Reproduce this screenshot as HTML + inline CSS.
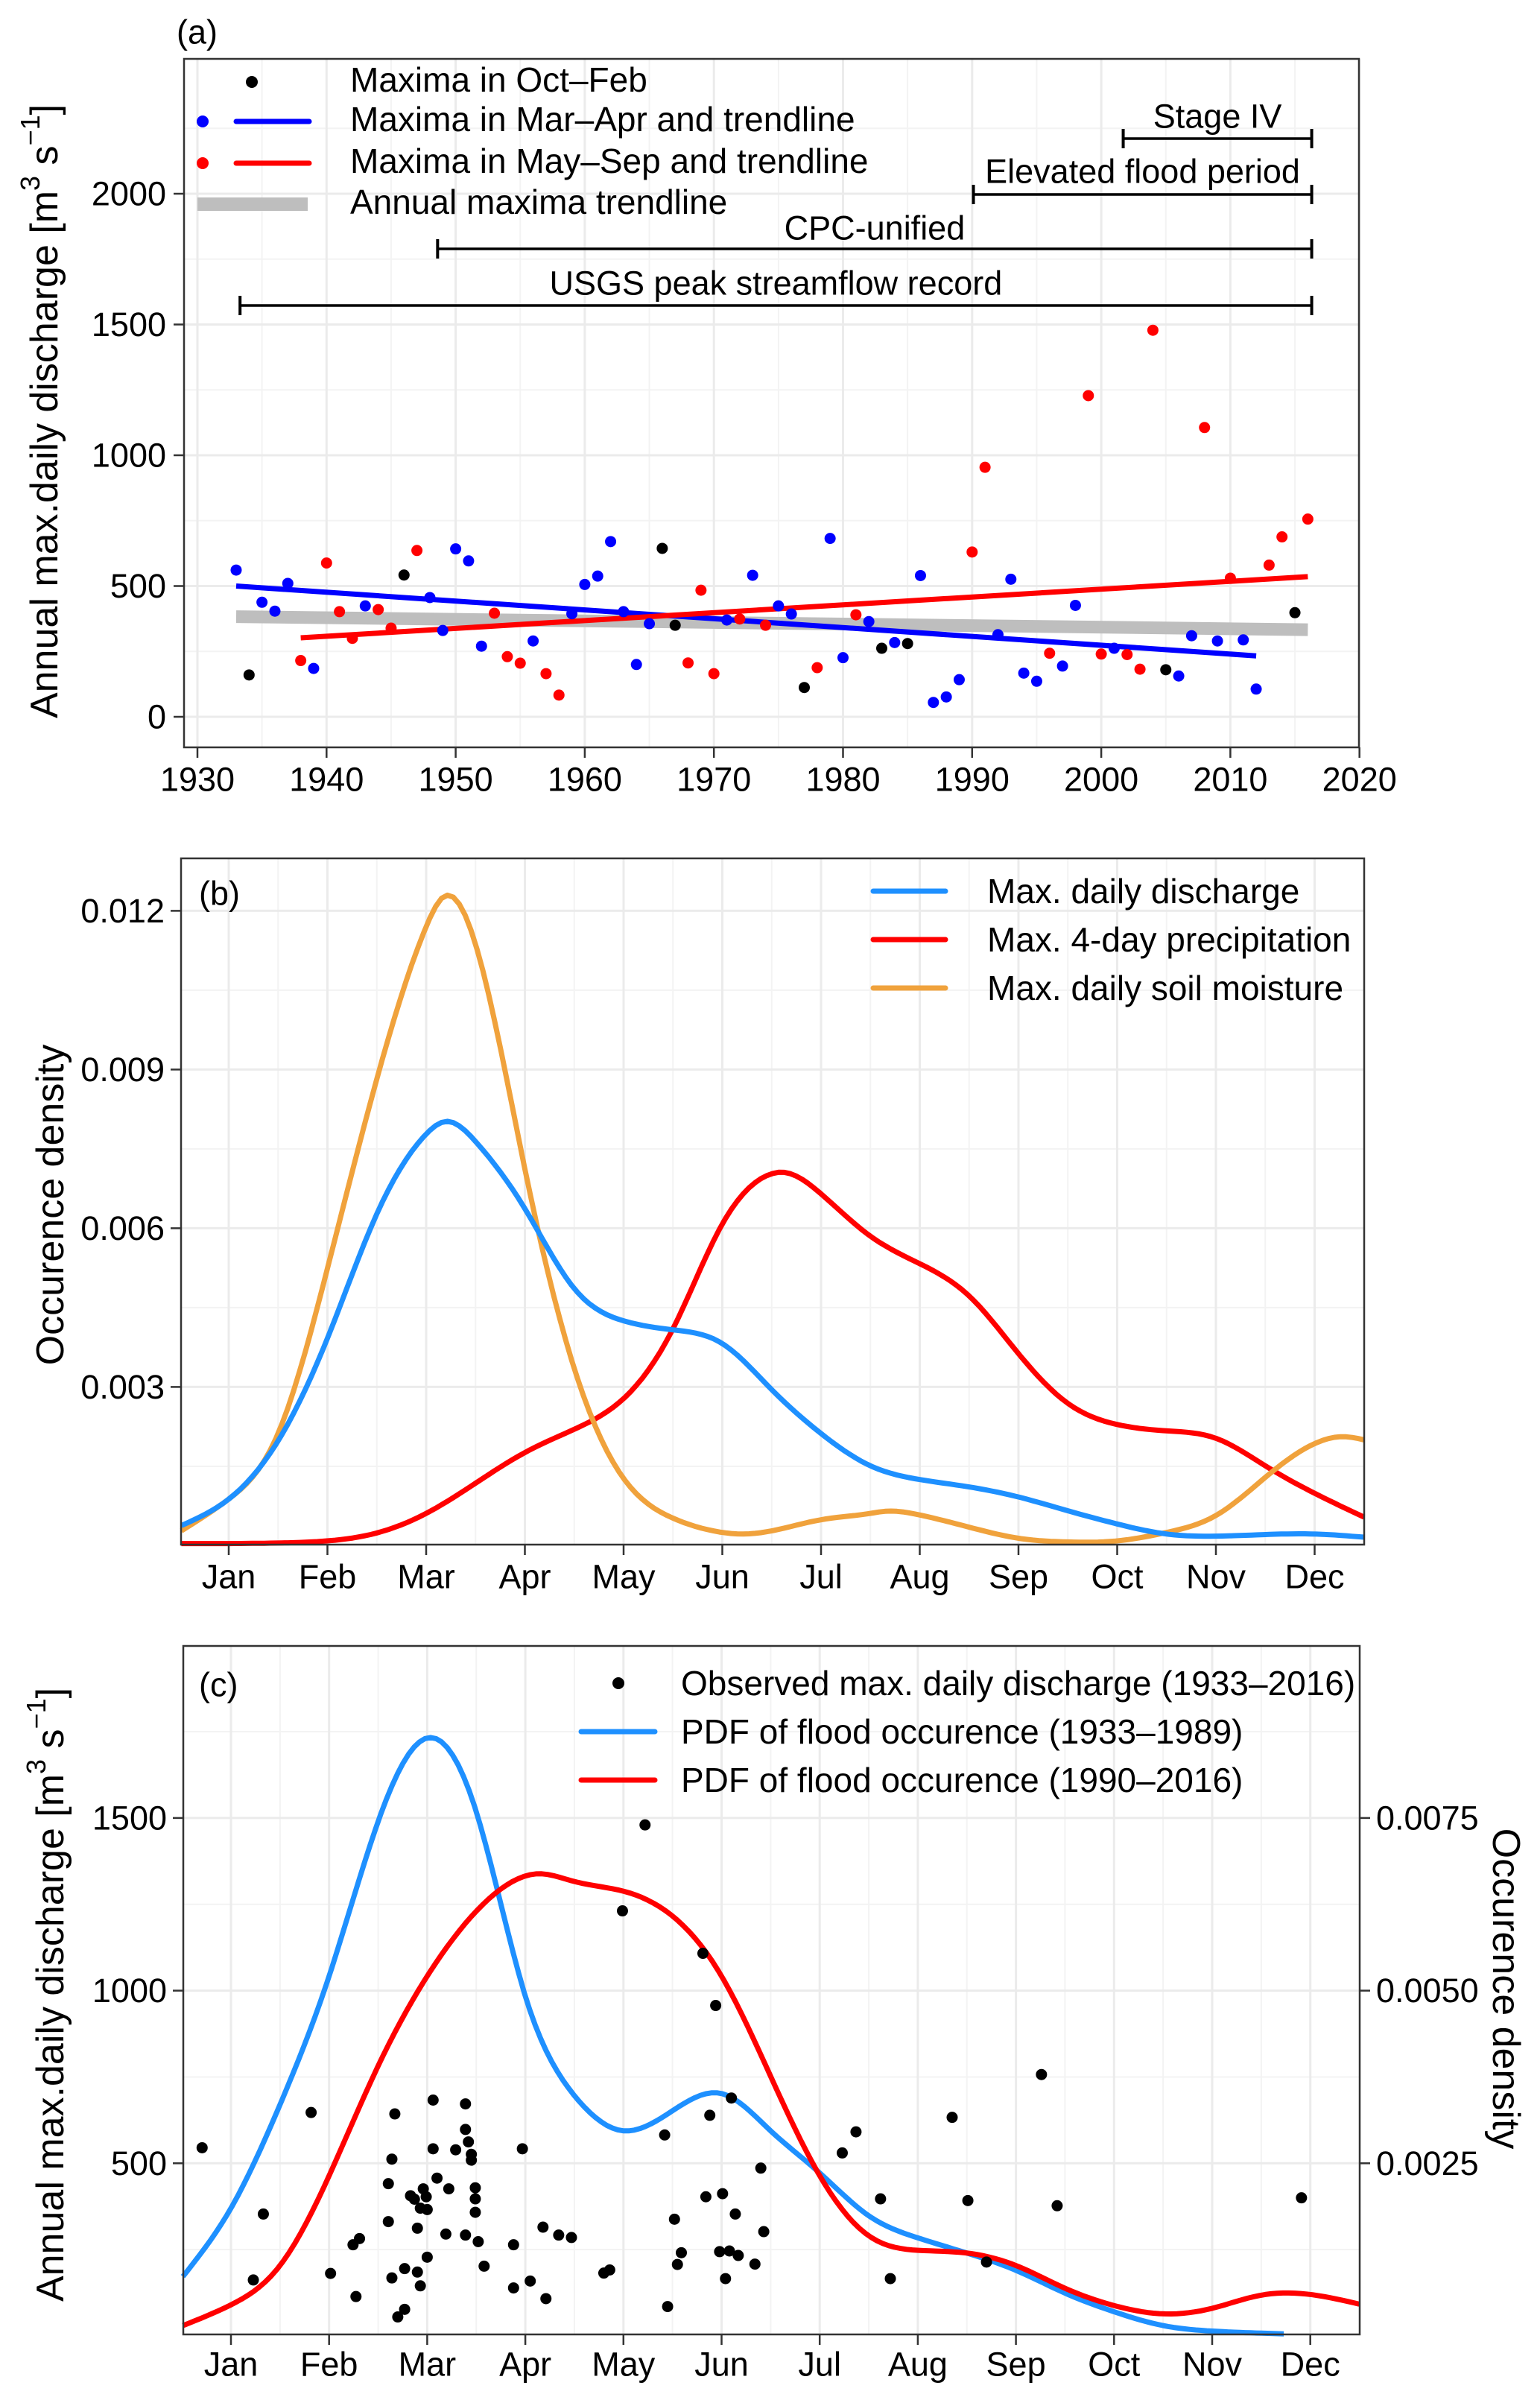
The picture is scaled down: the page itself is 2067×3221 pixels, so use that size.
<!DOCTYPE html>
<html><head><meta charset="utf-8">
<style>
html,body{margin:0;padding:0;background:#fff;}
svg{display:block;font-family:"Liberation Sans",Arial,sans-serif;}
</style></head>
<body>
<svg id="fig" xmlns="http://www.w3.org/2000/svg" width="2067" height="3221" viewBox="0 0 2067 3221"></svg>
<script>
// ---------- Panel (a) data ----------
const aYears = [1933,1934,1935,1936,1937,1938,1939,1940,1941,1942,1943,1944,1945,1946,1947,1948,1949,1950,1951,1952,1953,1954,1955,1956,1957,1958,1959,1960,1961,1962,1963,1964,1965,1966,1967,1968,1969,1970,1971,1972,1973,1974,1975,1976,1977,1978,1979,1980,1981,1982,1983,1984,1985,1986,1987,1988,1989,1990,1991,1992,1993,1994,1995,1996,1997,1998,1999,2000,2001,2002,2003,2004,2005,2006,2007,2008,2009,2010,2011,2012,2013,2014,2015,2016];
const aValues = [561,160,438,404,510,215,185,588,402,300,424,410,339,542,636,456,330,642,596,270,396,230,205,290,165,83,394,506,538,670,402,200,356,644,350,206,484,165,370,374,541,350,424,393,112,188,682,226,390,364,262,284,280,540,55,76,142,630,954,314,526,167,136,243,194,426,1228,240,262,238,182,1478,180,156,310,1106,290,530,294,106,580,688,398,756];
const aSeason = ["b","k","b","b","b","r","b","r","r","r","b","r","r","k","r","b","b","b","b","b","r","r","r","b","r","r","b","b","b","b","b","b","b","k","k","r","r","r","b","r","b","r","b","b","k","r","b","b","r","b","k","b","k","b","b","b","b","r","r","b","b","b","b","r","b","b","r","r","b","r","r","r","k","b","b","r","b","r","b","b","r","r","k","r"];
const trendBlueYears = [1933,2012];
const trendBlueValues = [500,233];
const trendRedYears = [1938,2016];
const trendRedValues = [302,536];
const trendGreyYears = [1933,2016];
const trendGreyValues = [383,333];
const periodLabels = ["Stage IV","Elevated flood period","CPC-unified","USGS peak streamflow record"];
const periodStart = [2001.7,1990.1,1948.6,1933.3];
const periodEnd = [2016.3,2016.3,2016.3,2016.3];
const aXTicks = [1930,1940,1950,1960,1970,1980,1990,2000,2010,2020];
const aYTicks = [0,500,1000,1500,2000];

// ---------- Panel (b) data ----------
const monthLabels = ["Jan","Feb","Mar","Apr","May","Jun","Jul","Aug","Sep","Oct","Nov","Dec"];
const bSoilM = [-0.48,0,0.5,1,1.5,2,2.17,2.5,3,3.5,4,4.5,5,5.2,5.5,6,6.5,6.65,7,7.5,8,8.5,9,9.5,10,10.5,11,11.3,11.5];
const bSoilV = [0.00028,0.00088,0.00212,0.00524,0.00882,0.0117,0.01226,0.01137,0.00712,0.00335,0.00127,0.00052,0.00025,0.00022,0.00028,0.00049,0.00061,0.00065,0.00058,0.00035,0.00014,0.00007,0.00009,0.00025,0.00057,0.00129,0.00193,0.00206,0.002];
const bDisM = [-0.48,0,0.5,1,1.5,2,2.2,2.5,3,3.5,4,4.5,5,5.5,6,6.5,7,7.5,8,8.5,9,9.5,10,10.5,11,11.5];
const bDisV = [0.00038,0.00088,0.00198,0.00392,0.00627,0.00778,0.00802,0.00764,0.00637,0.00486,0.00425,0.00408,0.00382,0.00295,0.00212,0.00151,0.00125,0.00111,0.00092,0.00066,0.00041,0.00022,0.00018,0.00021,0.00022,0.00016];
const bPreM = [-0.48,0,0.5,1,1.5,2,2.5,3,3.5,4,4.5,5,5.5,5.6,6,6.5,7,7.5,8,8.5,9,9.5,10,10.5,11,11.5];
const bPreV = [0.00004,0.00004,0.00005,0.00009,0.00024,0.00061,0.00118,0.00176,0.0022,0.00278,0.0041,0.00608,0.00703,0.00706,0.00665,0.00585,0.00533,0.00472,0.00363,0.00269,0.00229,0.00217,0.00203,0.00151,0.00099,0.00054];
const bYTicks = [0.003,0.006,0.009,0.012];

// ---------- Panel (c) data ----------
const cPtMonth = [-0.294,0.228,0.33,0.817,1.015,1.244,1.31,1.274,1.604,1.604,1.64,1.64,1.67,1.70,1.77,1.77,1.83,1.87,1.90,1.90,1.93,1.93,1.96,1.99,2.0,2.0,2.06,2.06,2.10,2.19,2.22,2.29,2.39,2.39,2.39,2.42,2.45,2.45,2.49,2.49,2.49,2.52,2.58,2.88,2.88,2.97,3.05,3.18,3.21,3.34,3.47,3.80,3.86,3.99,4.22,4.42,4.45,4.52,4.55,4.59,4.81,4.84,4.88,4.94,4.98,5.01,5.04,5.08,5.10,5.14,5.17,5.34,5.40,5.43,6.23,6.37,6.62,6.72,7.35,7.51,7.70,8.26,8.42,10.91];
const cPtValue = [545,162,353,647,181,264,282,114,441,331,512,168,643,55,77,195,406,396,312,185,370,145,426,403,366,228,683,542,457,295,426,539,672,598,292,562,526,509,429,397,358,273,202,264,139,542,159,315,108,292,285,182,191,1231,1480,582,85,338,207,241,1108,403,639,957,244,412,166,246,689,353,233,208,486,302,530,591,397,166,633,392,214,757,377,400];
const cEarlyM = [-0.49,0,0.5,1,1.5,2,2.5,3,3.5,4,4.5,5,5.5,6,6.5,7,7.5,8,8.5,9,9.5,10,10.5,10.73];
const cEarlyV = [0.00086,0.00185,0.00335,0.00521,0.00745,0.00866,0.00759,0.00492,0.00348,0.00297,0.00326,0.00351,0.00297,0.00236,0.00174,0.00142,0.0012,0.00095,0.00062,0.00035,0.00015,0.00007,0.00004,0.00003];
const cLateM = [-0.49,0,0.5,1,1.5,2,2.5,3,3.1,3.5,4,4.5,5,5.5,6,6.5,7,7.5,8,8.5,9,9.5,10,10.5,11,11.5];
const cLateV = [0.00015,0.00045,0.00102,0.00232,0.00391,0.00521,0.00615,0.00666,0.00669,0.00658,0.00644,0.00608,0.00521,0.00376,0.00232,0.00145,0.00124,0.0012,0.00102,0.00069,0.00044,0.00032,0.0004,0.00059,0.0006,0.00046];
const cYTicks = [500,1000,1500];
const cY2Ticks = ["0.0025","0.0050","0.0075"];
const cY2Values = [0.0025,0.005,0.0075];

// ---------- helpers ----------
const NS = "http://www.w3.org/2000/svg";
const svg = document.getElementById("fig");
function mk(tag, attrs, parent){
  const e = document.createElementNS(NS, tag);
  for (const k in attrs) e.setAttribute(k, attrs[k]);
  (parent||svg).appendChild(e);
  return e;
}
// natural cubic spline y(x), sampled densely
function smooth(pts){
  const n=pts.length, x=pts.map(p=>p[0]), y=pts.map(p=>p[1]);
  const h=[], al=[0], l=[1], mu=[0], z=[0], c=new Array(n).fill(0), b=[], d=[];
  for(let i=0;i<n-1;i++) h.push(x[i+1]-x[i]);
  for(let i=1;i<n-1;i++) al[i]=3/h[i]*(y[i+1]-y[i])-3/h[i-1]*(y[i]-y[i-1]);
  for(let i=1;i<n-1;i++){ l[i]=2*(x[i+1]-x[i-1])-h[i-1]*mu[i-1]; mu[i]=h[i]/l[i]; z[i]=(al[i]-h[i-1]*z[i-1])/l[i]; }
  for(let j=n-2;j>=0;j--){ c[j]=(j>0?z[j]-mu[j]*c[j+1]:0); b[j]=(y[j+1]-y[j])/h[j]-h[j]*(c[j+1]+2*c[j])/3; d[j]=(c[j+1]-c[j])/(3*h[j]); }
  c[0]=0; for(let j=0;j<1;j++){ b[0]=(y[1]-y[0])/h[0]-h[0]*(c[1]+2*c[0])/3; d[0]=(c[1]-c[0])/(3*h[0]); }
  let s="";
  const N=200;
  for(let k=0;k<=N;k++){
    const xx=x[0]+(x[n-1]-x[0])*k/N;
    let j=0; while(j<n-2 && xx>x[j+1]) j++;
    const t=xx-x[j], yy=y[j]+b[j]*t+c[j]*t*t+d[j]*t*t*t;
    s+=(k?"L":"M")+xx.toFixed(1)+","+yy.toFixed(1);
  }
  return s;
}
const GRIDMAJ="#ebebeb", GRIDMIN="#f3f3f3", AXC="#333333";
function hline(g,x1,x2,y,c,w){return mk("line",{x1:x1,x2:x2,y1:y,y2:y,stroke:c,"stroke-width":w},g);}
function vline(g,x,y1,y2,c,w){return mk("line",{x1:x,x2:x,y1:y1,y2:y2,stroke:c,"stroke-width":w},g);}
function txt(g,x,y,s,size,anchor){
  const t=mk("text",{x:x,y:y,"font-size":size,"text-anchor":anchor||"start","dominant-baseline":"central",fill:"#000"},g);
  t.textContent=s; return t;
}

// ================= Panel (a) =================
const A = {L:247,R:1824,T:79,B:1003};
const ax = y => 265 + (y-1930)*17.33;
const ay = v => 962 - v*0.351;
const ga = mk("g",{});


for (let y=1935;y<=2015;y+=10) vline(ga,ax(y),A.T,A.B,GRIDMIN,2);
for (let v=250;v<=2250;v+=500) hline(ga,A.L,A.R,ay(v),GRIDMIN,2);
aXTicks.forEach(y=>vline(ga,ax(y),A.T,A.B,GRIDMAJ,3));
aYTicks.forEach(v=>hline(ga,A.L,A.R,ay(v),GRIDMAJ,3));
const tg = mk("line",{x1:ax(trendGreyYears[0]),y1:ay(trendGreyValues[0]),x2:ax(trendGreyYears[1]),y2:ay(trendGreyValues[1]),stroke:"#bebebe","stroke-width":17},ga);


const tb = mk("line",{x1:ax(trendBlueYears[0]),y1:ay(trendBlueValues[0]),x2:ax(trendBlueYears[1]),y2:ay(trendBlueValues[1]),stroke:"#0000ff","stroke-width":7},ga);


const tr = mk("line",{x1:ax(trendRedYears[0]),y1:ay(trendRedValues[0]),x2:ax(trendRedYears[1]),y2:ay(trendRedValues[1]),stroke:"#ff0000","stroke-width":7},ga);


const colMap = {k:"#000000",b:"#0000ff",r:"#ff0000"};
aYears.forEach((yr,i)=>{
  const c = mk("circle",{cx:ax(yr),cy:ay(aValues[i]),r:7.5,fill:colMap[aSeason[i]]},ga);
  
  
});
const periodY = [186,261,334,410];
const periodTextY = [156,230,306,380];
periodLabels.forEach((lab,i)=>{
  const x1=ax(periodStart[i]), x2=ax(periodEnd[i]), y=periodY[i];
  const g = mk("g",{},ga);
  
  
  hline(g,x1,x2,y,"#000",3.5);
  vline(g,x1,y-13,y+13,"#000",4);
  vline(g,x2,y-13,y+13,"#000",4);
  const t = txt(g,(x1+x2)/2,periodTextY[i],lab,45,"middle");
  
  
});
const la = mk("g",{},ga);


mk("circle",{cx:338,cy:110,r:8,fill:"#000"},la);
mk("circle",{cx:272,cy:163,r:8,fill:"#0000ff"},la);
mk("line",{x1:317,x2:415,y1:163,y2:163,stroke:"#0000ff","stroke-width":7,"stroke-linecap":"round"},la);
mk("circle",{cx:272,cy:219,r:8,fill:"#ff0000"},la);
mk("line",{x1:317,x2:415,y1:219,y2:219,stroke:"#ff0000","stroke-width":7,"stroke-linecap":"round"},la);
mk("rect",{x:265,y:265,width:148,height:18,fill:"#bebebe"},la);
txt(la,470,107,"Maxima in Oct\u2013Feb",46);
txt(la,470,160,"Maxima in Mar\u2013Apr and trendline",46);
txt(la,470,216,"Maxima in May\u2013Sep and trendline",46);
txt(la,470,271,"Annual maxima trendline",46);
mk("rect",{x:A.L,y:A.T,width:A.R-A.L,height:A.B-A.T,fill:"none",stroke:AXC,"stroke-width":2.5},ga);
aXTicks.forEach(y=>{vline(ga,ax(y),A.B,A.B+14,AXC,2.5); const t=txt(ga,ax(y),A.B+43,String(y),45,"middle");  });
aYTicks.forEach(v=>{hline(ga,A.L-14,A.L,ay(v),AXC,2.5); const t=txt(ga,A.L-24,ay(v),String(v),45,"end");  });
const pa = txt(ga,237,43,"(a)",45);  
function yTitleDischarge(g,cx,cy){
  const t = mk("text",{x:0,y:0,"font-size":52,"text-anchor":"middle","dominant-baseline":"central",transform:"translate("+cx+","+cy+") rotate(-90)"},g);
  
  
  const s1=mk("tspan",{},t); s1.textContent="Annual max.daily discharge [m";
  const s2=mk("tspan",{dy:-20,"font-size":36},t); s2.textContent="3";
  const s3=mk("tspan",{dy:20},t); s3.textContent=" s";
  const s4=mk("tspan",{dy:-20,"font-size":36},t); s4.textContent="\u22121";
  const s5=mk("tspan",{dy:20},t); s5.textContent="]";
}
yTitleDischarge(ga,60,552);

// ================= Panel (b) =================
const Bp = {L:243,R:1831,T:1152,B:2073};
const bx = m => 307 + m*132.5;
const by = v => 2074.4 - v*71000;
const gb = mk("g",{});


for (let m=0.5;m<11.5;m+=1) vline(gb,bx(m),Bp.T,Bp.B,GRIDMIN,2);
[0.0015,0.0045,0.0075,0.0105].forEach(v=>hline(gb,Bp.L,Bp.R,by(v),GRIDMIN,2));
monthLabels.forEach((_,i)=>vline(gb,bx(i),Bp.T,Bp.B,GRIDMAJ,3));
bYTicks.forEach(v=>hline(gb,Bp.L,Bp.R,by(v),GRIDMAJ,3));
function curve(g,ms,vs,fx,fy,color,name){
  const p = mk("path",{d:smooth(ms.map((m,i)=>[fx(m),fy(vs[i])])),fill:"none",stroke:color,"stroke-width":7,"stroke-linejoin":"round"},g);
  
  
}
curve(gb,bPreM,bPreV,bx,by,"#ff0000","precipitation-curve");
curve(gb,bSoilM,bSoilV,bx,by,"#f0a23c","soil-moisture-curve");
curve(gb,bDisM,bDisV,bx,by,"#1e90ff","discharge-curve");
const lb = mk("g",{},gb);


[["#1e90ff","Max. daily discharge",1196],["#ff0000","Max. 4-day precipitation",1261],["#f0a23c","Max. daily soil moisture",1326]].forEach(e=>{
  mk("line",{x1:1172,x2:1269,y1:e[2],y2:e[2],stroke:e[0],"stroke-width":7,"stroke-linecap":"round"},lb);
  txt(lb,1325,e[2],e[1],46);
});
mk("rect",{x:Bp.L,y:Bp.T,width:Bp.R-Bp.L,height:Bp.B-Bp.T,fill:"none",stroke:AXC,"stroke-width":2.5},gb);
monthLabels.forEach((lab,i)=>{vline(gb,bx(i),Bp.B,Bp.B+14,AXC,2.5); const t=txt(gb,bx(i),Bp.B+43,lab,45,"middle");  });
bYTicks.forEach(v=>{hline(gb,Bp.L-14,Bp.L,by(v),AXC,2.5); const t=txt(gb,Bp.L-22,by(v),v.toFixed(3),45,"end");  });
const pb = txt(gb,267,1199,"(b)",45);  
const tbt = mk("text",{x:0,y:0,"font-size":52,"text-anchor":"middle","dominant-baseline":"central",transform:"translate(68,1617) rotate(-90)"},gb);
tbt.textContent="Occurence density";



// ================= Panel (c) =================
const Cp = {L:246,R:1825,T:2209,B:3133};
const cx = m => 310 + m*131.7;
const cy = v => 3135 - v*0.4634;
const cyd = d => cy(d*200000);
const gc = mk("g",{});


for (let m=0.5;m<11.5;m+=1) vline(gc,cx(m),Cp.T,Cp.B,GRIDMIN,2);
[250,750,1250,1750].forEach(v=>hline(gc,Cp.L,Cp.R,cy(v),GRIDMIN,2));
monthLabels.forEach((_,i)=>vline(gc,cx(i),Cp.T,Cp.B,GRIDMAJ,3));
cYTicks.forEach(v=>hline(gc,Cp.L,Cp.R,cy(v),GRIDMAJ,3));
curve(gc,cEarlyM,cEarlyV,cx,cyd,"#1e90ff","pdf-1933-1989");
curve(gc,cLateM,cLateV,cx,cyd,"#ff0000","pdf-1990-2016");
cPtMonth.forEach((m,i)=>{
  const c = mk("circle",{cx:cx(m),cy:cy(cPtValue[i]),r:7.5,fill:"#000"},gc);
  
  
});
const lc = mk("g",{},gc);


mk("circle",{cx:830,cy:2259,r:8,fill:"#000"},lc);
txt(lc,914,2259,"Observed max. daily discharge (1933\u20132016)",46);
mk("line",{x1:780,x2:879,y1:2324,y2:2324,stroke:"#1e90ff","stroke-width":7,"stroke-linecap":"round"},lc);
txt(lc,914,2324,"PDF of flood occurence (1933\u20131989)",46);
mk("line",{x1:780,x2:879,y1:2389,y2:2389,stroke:"#ff0000","stroke-width":7,"stroke-linecap":"round"},lc);
txt(lc,914,2389,"PDF of flood occurence (1990\u20132016)",46);
mk("rect",{x:Cp.L,y:Cp.T,width:Cp.R-Cp.L,height:Cp.B-Cp.T,fill:"none",stroke:AXC,"stroke-width":2.5},gc);
monthLabels.forEach((lab,i)=>{vline(gc,cx(i),Cp.B,Cp.B+14,AXC,2.5); const t=txt(gc,cx(i),Cp.B+40,lab,45,"middle");  });
cYTicks.forEach(v=>{hline(gc,Cp.L-14,Cp.L,cy(v),AXC,2.5); const t=txt(gc,Cp.L-22,cy(v),String(v),45,"end");  });
cY2Values.forEach((d,i)=>{hline(gc,Cp.R,Cp.R+14,cyd(d),AXC,2.5); const t=txt(gc,Cp.R+22,cyd(d),cY2Ticks[i],45,"start");  });
const pc = txt(gc,267,2261,"(c)",45);  
yTitleDischarge(gc,68,2677);
const t2 = mk("text",{x:0,y:0,"font-size":52,"text-anchor":"middle","dominant-baseline":"central",transform:"translate(2021,2669) rotate(90)"},gc);
t2.textContent="Occurence density";


</script>
</body></html>
